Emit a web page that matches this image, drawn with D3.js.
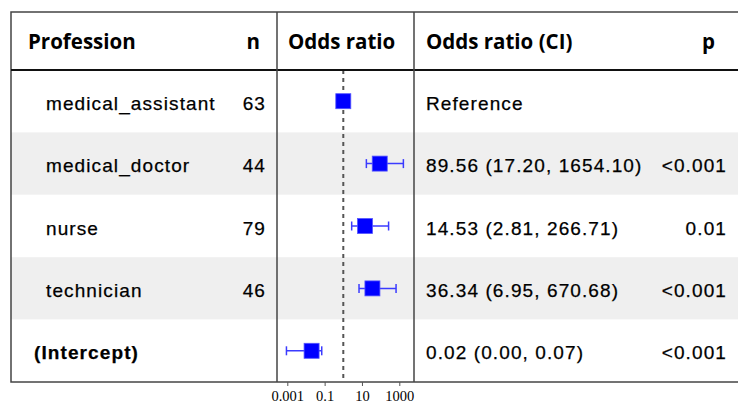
<!DOCTYPE html>
<html>
<head>
<meta charset="utf-8">
<script src="https://cdn.jsdelivr.net/npm/d3@7"></script>
<style>
  body { margin: 0; background: #fff; }
  svg { display: block; }
</style>
</head>
<body>
<div id="chart"></div>
<script>
// data
const terms = ["medical_assistant", "medical_doctor", "nurse", "technician", "(Intercept)"];
const nCounts = ["63", "44", "79", "46", ""];
const oddsRatios = [1, 89.56, 14.53, 36.34, 0.02];
const ciLow = [null, 17.20, 2.81, 6.95, 0.0009];
const ciHigh = [null, 1654.10, 266.71, 670.68, 0.07];
const orText = ["Reference", "89.56 (17.20, 1654.10)", "14.53 (2.81, 266.71)", "36.34 (6.95, 670.68)", "0.02 (0.00, 0.07)"];
const pText = ["", "<0.001", "0.01", "<0.001", "<0.001"];
const tickValues = [0.001, 0.1, 10, 1000];
const tickLabels = ["0.001", "0.1", "10", "1000"];

const width = 738, height = 403;
const tableLeft = 11, tableTop = 12, headerBottom = 70, tableBottom = 382;
const col1 = 277, col2 = 414;

const svg = d3.select("#chart").append("svg")
    .attr("width", width).attr("height", height);

const y = d3.scaleBand()
    .domain(d3.range(terms.length))
    .range([headerBottom, tableBottom])
    .padding(0);

const x = d3.scaleLog()
    .domain([0.001, 1000])
    .range([287.3, 399.3]);

// striped rows
svg.append("g").selectAll("rect")
    .data(terms)
    .enter().append("rect")
    .attr("x", tableLeft)
    .attr("y", (d, i) => y(i))
    .attr("width", width - tableLeft)
    .attr("height", y.bandwidth())
    .attr("fill", (d, i) => i % 2 === 1 ? "#efefef" : "#fff");

const bodyFont = "'Liberation Sans', Arial, sans-serif";
const headFont = "'Open Sans', 'Noto Sans', sans-serif";

// header
const header = svg.append("g")
    .attr("font-family", headFont)
    .attr("font-weight", "bold")
    .attr("font-size", 20.5)
    .attr("fill", "#000");
header.append("text").attr("x", 28).attr("y", 49).text("Profession");
header.append("text").attr("x", 260).attr("y", 49).attr("text-anchor", "end").text("n");
header.append("text").attr("x", 288).attr("y", 49).text("Odds ratio");
header.append("text").attr("x", 426).attr("y", 49).text("Odds ratio (CI)");
header.append("text").attr("x", 715).attr("y", 49).attr("text-anchor", "end").text("p");

// row text
const rows = svg.append("g")
    .attr("font-family", bodyFont)
    .attr("font-size", 19)
    .attr("letter-spacing", 1.1)
    .attr("fill", "#000")
    .attr("stroke", "#000")
    .attr("stroke-width", 0.25);

const rowY = i => y(i) + y.bandwidth() / 2 + 8.5;

rows.selectAll(".term")
    .data(terms)
    .enter().append("text")
    .attr("class", "term")
    .attr("x", (d, i) => i === terms.length - 1 ? 34 : 46)
    .attr("y", (d, i) => rowY(i))
    .attr("font-weight", (d, i) => i === terms.length - 1 ? "bold" : "normal")
    .text(d => d);

rows.selectAll(".n")
    .data(nCounts)
    .enter().append("text")
    .attr("class", "n")
    .attr("x", 266)
    .attr("y", (d, i) => rowY(i))
    .attr("text-anchor", "end")
    .text(d => d);

rows.selectAll(".ci")
    .data(orText)
    .enter().append("text")
    .attr("class", "ci")
    .attr("x", 426)
    .attr("y", (d, i) => rowY(i))
    .text(d => d);

rows.selectAll(".p")
    .data(pText)
    .enter().append("text")
    .attr("class", "p")
    .attr("x", 727)
    .attr("y", (d, i) => rowY(i))
    .attr("text-anchor", "end")
    .text(d => d);

// reference line at OR = 1
svg.append("line")
    .attr("x1", x(1)).attr("x2", x(1))
    .attr("y1", headerBottom).attr("y2", tableBottom)
    .attr("stroke", "#555")
    .attr("stroke-width", 2)
    .attr("stroke-dasharray", "4,4");

// whiskers
const ci = svg.append("g")
    .selectAll("g")
    .data(terms.map((t, i) => ({ i, lo: ciLow[i], hi: ciHigh[i] })).filter(d => d.lo != null))
    .enter().append("g")
    .attr("stroke", "#3b3bff")
    .attr("stroke-width", 1.5);
const mid = d => y(d.i) + y.bandwidth() / 2;
ci.append("line")
    .attr("x1", d => x(d.lo)).attr("x2", d => x(d.hi))
    .attr("y1", mid).attr("y2", mid);
ci.append("line")
    .attr("x1", d => x(d.lo)).attr("x2", d => x(d.lo))
    .attr("y1", d => mid(d) - 4.5).attr("y2", d => mid(d) + 4.5);
ci.append("line")
    .attr("x1", d => x(d.hi)).attr("x2", d => x(d.hi))
    .attr("y1", d => mid(d) - 4.5).attr("y2", d => mid(d) + 4.5);

// point estimates
const sq = 15;
svg.append("g").selectAll("rect")
    .data(oddsRatios)
    .enter().append("rect")
    .attr("x", d => x(d) - sq / 2)
    .attr("y", (d, i) => y(i) + y.bandwidth() / 2 - sq / 2)
    .attr("width", sq)
    .attr("height", sq)
    .attr("fill", "#0000ff")
    .attr("stroke", "#5555ff")
    .attr("stroke-width", 0.8);

// grid lines
const grid = svg.append("g").attr("fill", "none");
grid.append("rect")
    .attr("x", tableLeft).attr("y", tableTop)
    .attr("width", width - tableLeft + 5).attr("height", tableBottom - tableTop)
    .attr("stroke", "#444").attr("stroke-width", 1.5);
grid.append("line")
    .attr("x1", tableLeft).attr("x2", width)
    .attr("y1", headerBottom).attr("y2", headerBottom)
    .attr("stroke", "#111").attr("stroke-width", 2.2);
[col1, col2].forEach(cx => {
    grid.append("line")
        .attr("x1", cx).attr("x2", cx)
        .attr("y1", tableTop).attr("y2", tableBottom)
        .attr("stroke", "#444").attr("stroke-width", 1.5);
});

// axis
const axis = d3.axisBottom(x)
    .tickValues(tickValues)
    .tickFormat((d, i) => tickLabels[i])
    .tickSize(4)
    .tickPadding(5);
const axisG = svg.append("g")
    .attr("transform", `translate(0,${tableBottom})`)
    .call(axis);
axisG.select(".domain").remove();
axisG.selectAll(".tick line").attr("stroke", "#555");
axisG.selectAll(".tick text")
    .attr("font-family", "'Liberation Serif', 'Times New Roman', serif")
    .attr("font-size", 14.5)
    .attr("fill", "#000");
</script>
</body>
</html>
